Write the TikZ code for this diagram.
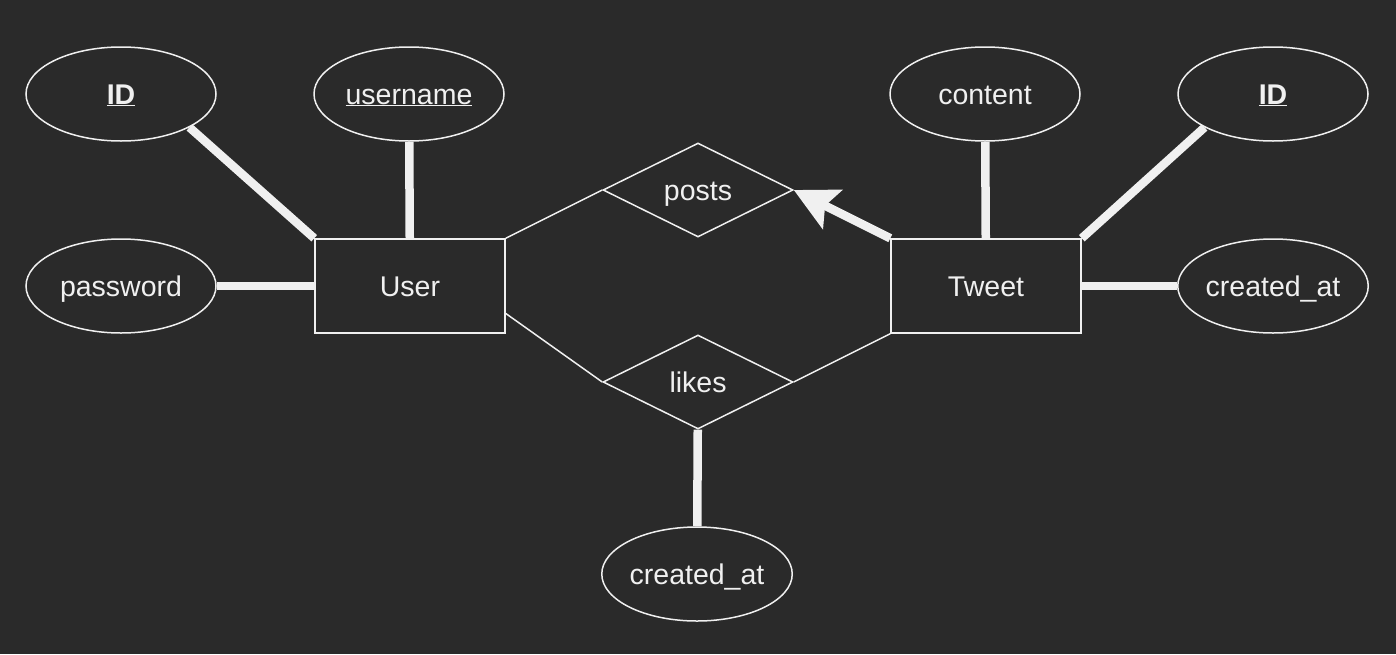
\documentclass[tikz,border=0pt]{standalone}
\usepackage{fontspec}
\setmainfont{Liberation Sans}
\usetikzlibrary{shapes.geometric,arrows.meta}
\definecolor{bgdark}{HTML}{2A2A2A}
\definecolor{inkline}{HTML}{F0F0F0}
\begin{document}
\begin{tikzpicture}[x=1pt,y=-1pt,
    every node/.style={text=inkline, font=\fontsize{28.5}{34}\selectfont, text height=20pt, text depth=0pt},
    entity/.style={draw=inkline, line width=1.5pt, minimum width=190pt, minimum height=94pt, inner sep=0pt},
    attr/.style={entity, ellipse},
    relation/.style={entity, diamond, aspect=2},
    total/.style={draw=inkline, line width=8.5pt},
    partial/.style={draw=inkline, line width=1.5pt}]
  \fill[bgdark] (0,0) rectangle (1396,654);
  % entities
  \node[entity] (User) at (410,286) {User};
  \node[entity] (Tweet) at (986,286) {Tweet};
  % relationships
  \node[relation] (posts) at (698,190) {posts};
  \node[relation] (likes) at (698,382) {likes};
  % attributes
  \node[attr] (userID) at (121,94) {\textbf{\underline{ID}}};
  \node[attr] (username) at (409,94) {\underline{username}};
  \node[attr] (password) at (121,286) {password};
  \node[attr] (content) at (985,94) {content};
  \node[attr] (tweetID) at (1273,94) {\textbf{\underline{ID}}};
  \node[attr] (tweetDate) at (1273,286) {created\_at};
  \node[attr] (likeDate) at (697,574) {created\_at};
  % attribute links
  \draw[total] (userID.-26) -- (User.north west);
  \draw[total] (username) -- (User);
  \draw[total] (password) -- (User);
  \draw[total] (content) -- (Tweet);
  \draw[total] (tweetID.-154) -- (Tweet.north east);
  \draw[total] (tweetDate) -- (Tweet);
  \draw[total] (likeDate) -- (likes);
  % relationship links
  \draw[partial] (User.north east) -- (posts.west);
  \draw[partial] (User.-16) -- (likes.west);
  \draw[partial] (likes.east) -- (Tweet.south west);
  \draw[total, -{Stealth[length=43pt, width=43pt, inset=8pt]}] (Tweet.north west) -- (posts.east);
\end{tikzpicture}
\end{document}
